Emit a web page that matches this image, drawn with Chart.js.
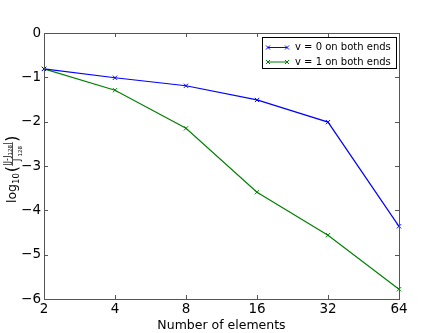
<!DOCTYPE html>
<html>
<head>
<meta charset="utf-8">
<script src="https://cdn.jsdelivr.net/npm/chart.js@4.4.1/dist/chart.umd.min.js"></script>
<style>
  html, body { margin: 0; padding: 0; background: #fff; }
  #wrap { width: 444px; height: 333px; }
</style>
</head>
<body>
<div id="wrap"><canvas id="chart" width="444" height="333"></canvas></div>
<script>
// values (log10 of relative error)
const elements = ['2', '4', '8', '16', '32', '64'];
const fixedZero = [-0.81, -1.01, -1.19, -1.51, -2.01, -4.36];
const fixedOne = [-0.81, -1.29, -2.15, -3.59, -4.56, -5.78];
const yTicks = [0, -1, -2, -3, -4, -5, -6];

const FONT = 'DejaVu Sans';
const frameColor = '#555';

// matplotlib style: frame on all four sides, ticks pointing inward
const frameTicks = {
    id: 'frameTicks',
    afterDatasetsDraw(chart) {
        const { ctx, chartArea: a, scales } = chart;
        ctx.save();
        ctx.strokeStyle = frameColor;
        ctx.lineWidth = 1;
        ctx.strokeRect(a.left + 0.5, a.top + 0.5, a.right - a.left, a.bottom - a.top);
        ctx.beginPath();
        elements.forEach((e, i) => {
            const x = Math.round(scales.x.getPixelForValue(i)) + 0.5;
            ctx.moveTo(x, a.bottom); ctx.lineTo(x, a.bottom - 4);
            ctx.moveTo(x, a.top); ctx.lineTo(x, a.top + 4);
        });
        yTicks.forEach(v => {
            const y = Math.round(scales.y.getPixelForValue(v)) + 0.5;
            ctx.moveTo(a.left, y); ctx.lineTo(a.left + 4, y);
            ctx.moveTo(a.right, y); ctx.lineTo(a.right - 4, y);
        });
        ctx.stroke();
        ctx.restore();
    }
};

// rotated y label: log10( |J-J128| / J128 )
const yLabel = {
    id: 'yLabel',
    afterDraw(chart) {
        const { ctx } = chart;
        ctx.save();
        ctx.translate(16, 203);
        ctx.rotate(-Math.PI / 2);
        ctx.fillStyle = '#000';
        ctx.textBaseline = 'alphabetic';
        let x = 0;
        ctx.font = `12.5px ${FONT}`;
        ctx.fillText('log', x, 0);
        x += ctx.measureText('log').width;
        ctx.font = `8.5px ${FONT}`;
        ctx.fillText('10', x, 3);
        x += ctx.measureText('10').width + 1;
        ctx.font = `16px ${FONT}`;
        ctx.fillText('(', x, 1);
        x += ctx.measureText('(').width;
        // numerator
        ctx.font = `8px ${FONT}`;
        ctx.fillText('|J-J', x, -6);
        let nx = x + ctx.measureText('|J-J').width;
        ctx.font = `5.5px ${FONT}`;
        ctx.fillText('128', nx, -4.5);
        nx += ctx.measureText('128').width;
        ctx.font = `8px ${FONT}`;
        ctx.fillText('|', nx, -6);
        nx += ctx.measureText('|').width;
        // fraction bar
        ctx.fillRect(x, -4, nx - x, 0.7);
        // denominator
        const dx = x + (nx - x) / 2 - 7;
        ctx.fillText('J', dx, 4);
        ctx.font = `5.5px ${FONT}`;
        ctx.fillText('128', dx + 4.5, 5.5);
        ctx.font = `16px ${FONT}`;
        ctx.fillText(')', nx + 0.5, 1);
        ctx.restore();
    }
};

// legend box in the upper right of the axes
const legendBox = {
    id: 'legendBox',
    afterDraw(chart) {
        const { ctx, chartArea: a } = chart;
        const w = 134, h = 31;
        const x0 = a.right - w - 3, y0 = a.top + 4;
        ctx.save();
        ctx.fillStyle = '#fff';
        ctx.fillRect(x0, y0, w, h);
        ctx.strokeStyle = '#000';
        ctx.lineWidth = 1;
        ctx.strokeRect(x0 + 0.5, y0 + 0.5, w, h);
        chart.data.datasets.forEach((ds, i) => {
            const y = y0 + 10.5 + i * 14.5;
            ctx.strokeStyle = ds.borderColor;
            ctx.lineWidth = 1;
            ctx.beginPath();
            ctx.moveTo(x0 + 6, y); ctx.lineTo(x0 + 25, y);
            // x markers at both ends
            [x0 + 6, x0 + 25].forEach(mx => {
                ctx.moveTo(mx - 2, y - 2); ctx.lineTo(mx + 2, y + 2);
                ctx.moveTo(mx - 2, y + 2); ctx.lineTo(mx + 2, y - 2);
            });
            ctx.stroke();
            ctx.fillStyle = '#000';
            ctx.font = `10px ${FONT}`;
            ctx.textBaseline = 'middle';
            ctx.fillText(ds.label, x0 + 33, y);
        });
        ctx.restore();
    }
};

new Chart(document.getElementById('chart').getContext('2d'), {
    type: 'line',
    data: {
        labels: elements,
        datasets: [{
            label: 'v = 0 on both ends',
            data: fixedZero,
            borderColor: '#0000ff',
            pointBorderColor: '#0000ff',
            borderWidth: 1.2,
            pointStyle: 'crossRot',
            pointRadius: 3,
            pointBorderWidth: 1,
            tension: 0,
            fill: false
        }, {
            label: 'v = 1 on both ends',
            data: fixedOne,
            borderColor: '#008000',
            pointBorderColor: '#008000',
            borderWidth: 1.2,
            pointStyle: 'crossRot',
            pointRadius: 3,
            pointBorderWidth: 1,
            tension: 0,
            fill: false
        }]
    },
    options: {
        responsive: false,
        animation: false,
        layout: { padding: { top: 33, right: 45, left: 0, bottom: 0 } },
        plugins: {
            legend: { display: false },
            tooltip: { enabled: false }
        },
        scales: {
            x: {
                type: 'category',
                offset: false,
                grid: { display: false, drawTicks: false, tickLength: 0 },
                border: { display: false },
                ticks: { color: '#000', font: { family: FONT, size: 13.5 }, padding: 2, maxRotation: 0 },
                title: { display: true, text: 'Number of elements', color: '#000', font: { family: FONT, size: 12.5 }, padding: { top: 0, bottom: 0 } },
                afterFit(s) { s.height = 34; }
            },
            y: {
                min: -6,
                max: 0,
                grid: { display: false, drawTicks: false, tickLength: 0 },
                border: { display: false },
                ticks: {
                    stepSize: 1,
                    color: '#000',
                    font: { family: FONT, size: 13.5 },
                    padding: 3,
                    callback: v => (v < 0 ? '\u2212' + Math.abs(v) : String(v))
                },
                afterFit(s) { s.width = 44; }
            }
        }
    },
    plugins: [frameTicks, yLabel, legendBox]
});
</script>
</body>
</html>
